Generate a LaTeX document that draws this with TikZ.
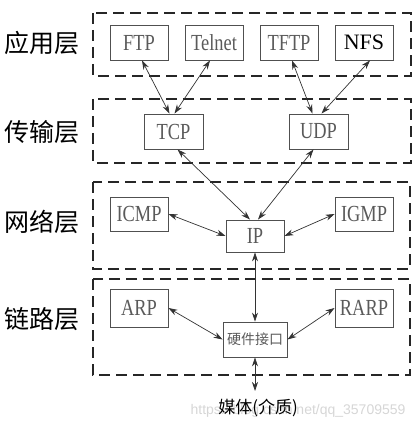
\documentclass[tikz,border=0pt]{standalone}
\usepackage{fontspec}
\usetikzlibrary{arrows.meta}
\setmainfont{Liberation Serif}
\newfontfamily\cjk{Noto Sans CJK SC}
\newfontfamily\cond[FakeStretch=0.8]{Liberation Serif}
\newfontfamily\wmfont{Liberation Sans}
\definecolor{txtgray}{HTML}{5A5A5A}
\definecolor{boxgray}{HTML}{505050}
\begin{document}
\begin{tikzpicture}[x=1pt,y=-1pt,
  proto/.style={draw=boxgray,line width=0.9pt,minimum width=58pt,minimum height=35pt,inner sep=0pt,
     font=\cond\fontsize{23}{23}\selectfont,text=txtgray},
  layer/.style={draw=black!85,line width=1.6pt,dash pattern=on 11pt off 6pt},
  layerlabel/.style={font=\cjk\fontsize{25}{25}\selectfont,text=black},
  link/.style={draw=black!80,line width=0.7pt,{Stealth[length=9pt,width=6pt]}-{Stealth[length=9pt,width=6pt]}}]
\useasboundingbox (0,0) rectangle (419,430);
% watermark (behind)
\node[font=\wmfont\fontsize{14}{14}\selectfont,text=black!16,anchor=east] (wm) at (409,411) {https://blog.csdn.net/qq\_35709559};
% layer boxes
\draw[layer] (93,13) rectangle (411,76);
\draw[layer] (93,99) rectangle (411,163);
\draw[layer] (93,182) rectangle (410,269);
\draw[layer] (93,279) rectangle (410,375);
% layer labels
\node[layerlabel] (L1) at (42,43) {应用层};
\node[layerlabel] (L2) at (42,132) {传输层};
\node[layerlabel] (L3) at (42,222) {网络层};
\node[layerlabel] (L4) at (42,319) {链路层};
% protocol nodes
\node[proto] (FTP) at (139,42.5) {FTP};
\node[proto] (Telnet) at (214,42.5) {Telnet};
\node[proto] (TFTP) at (289,42.5) {TFTP};
\node[proto,font=\fontsize{22}{22}\selectfont,text=black] (NFS) at (364,42.5) {NFS};
\node[proto,minimum width=59pt] (TCP) at (173.5,131.5) {TCP};
\node[proto,minimum width=59pt] (UDP) at (318.5,131.5) {UDP};
\node[proto,minimum height=34pt] (ICMP) at (139,214) {ICMP};
\node[proto,minimum height=32pt] (IP) at (255,236) {IP};
\node[proto,minimum height=34pt] (IGMP) at (364,214) {IGMP};
\node[proto,minimum height=38pt] (ARP) at (139,308) {ARP};
\node[proto,minimum height=38pt] (RARP) at (364,308) {RARP};
\node[proto,minimum width=64pt,font=\cjk\fontsize{14}{14}\selectfont] (HW) at (255,339.5) {硬件接口};
\coordinate (M) at (255,391);
\node[font=\cjk\fontsize{17}{17}\selectfont,text=black] (media) at (258,408) {媒体(介质)};
% connectors
\draw[link] ([xshift=3pt]FTP.south) -- ([xshift=-4pt]TCP.north);
\draw[link] ([xshift=-4pt]Telnet.south) -- ([xshift=1pt]TCP.north);
\draw[link] ([xshift=3pt]TFTP.south) -- ([xshift=-6pt]UDP.north);
\draw[link] ([xshift=6pt]NFS.south) -- ([xshift=3pt]UDP.north);
\draw[link] ([xshift=4pt]TCP.south) -- ([xshift=-5pt]IP.north);
\draw[link] ([xshift=-5pt]UDP.south) -- ([xshift=3pt]IP.north);
\draw[link] (ICMP.east) -- (IP.west);
\draw[link] (IGMP.west) -- (IP.east);
\draw[link] (IP.south) -- (HW.north);
\draw[link] (ARP.east) -- (HW.west);
\draw[link] (RARP.west) -- (HW.east);
\draw[link] (HW.south) -- (M);
\end{tikzpicture}
\end{document}
